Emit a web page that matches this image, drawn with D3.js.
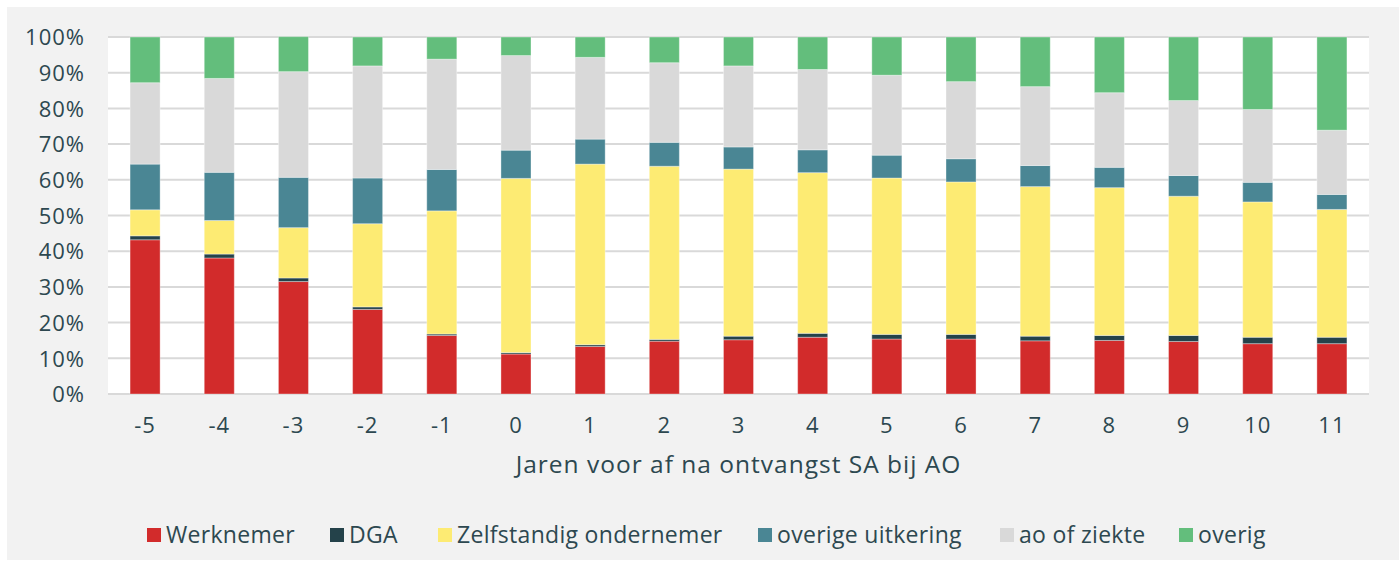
<!DOCTYPE html>
<html>
<head>
<meta charset="utf-8">
<script src="https://cdn.jsdelivr.net/npm/d3@7"></script>
<style>
  body { margin: 0; background: #fff; }
  text { font-family: "Open Sans", Lato, sans-serif; fill: #2d4850; }
</style>
</head>
<body>
<div id="graph"></div>
<script>
// jaren t.o.v. ontvangst SA
var years = ["-5","-4","-3","-2","-1","0","1","2","3","4","5","6","7","8","9","10","11"];
var seriesNames = ["Werknemer","DGA","Zelfstandig ondernemer","overige uitkering","ao of ziekte","overig"];
var seriesColors = ["#d22b2b","#24424a","#fdeb73","#4a8694","#d9d9d9","#63be7c"];

// aandelen in % per jaar
var werknemer   = [43.2,38.1,31.5,23.7,16.4,11.2,13.3,14.8,15.2,15.9,15.4,15.4,14.9,15.0,14.7,14.1,14.1];
var dga         = [ 1.1, 1.1, 1.0, 0.7, 0.4, 0.4, 0.5, 0.5, 1.0, 1.1, 1.3, 1.3, 1.3, 1.4, 1.7, 1.8, 1.8];
var zelfstandig = [ 7.3, 9.4,14.1,23.3,34.5,48.8,50.6,48.5,46.8,45.0,43.8,42.7,41.9,41.4,39.0,37.9,35.8];
var overigeUitk = [12.8,13.5,14.1,12.8,11.6, 7.9, 7.0, 6.7, 6.2, 6.4, 6.4, 6.5, 5.9, 5.7, 5.8, 5.5, 4.2];
var aoZiekte    = [22.8,26.3,29.6,31.4,30.9,26.5,22.9,22.3,22.7,22.5,22.4,21.6,22.1,20.9,21.0,20.4,18.0];
var overig      = [12.8,11.6, 9.8, 8.1, 6.2, 5.2, 5.7, 7.2, 8.1, 9.1,10.7,12.5,13.9,15.6,17.8,20.3,26.1];

var yTicks = [0,10,20,30,40,50,60,70,80,90,100];

var allSeries = [werknemer, dga, zelfstandig, overigeUitk, aoZiekte, overig];
var table = years.map(function(y, i){
    var row = {year: y};
    seriesNames.forEach(function(n, s){ row[n] = allSeries[s][i]; });
    return row;
});

var W = 1400, H = 567;
var margin = {top: 37, right: 31, bottom: 173, left: 108};
var w = W - margin.left - margin.right;
var h = H - margin.top - margin.bottom;

var svg = d3.select('#graph').append('svg')
    .attr('width', W)
    .attr('height', H);

// grijze achtergrond
svg.append('rect')
    .attr('x', 7).attr('y', 7)
    .attr('width', W - 8).attr('height', H - 14)
    .attr('fill', '#f2f2f2');

var g = svg.append('g')
    .attr('transform', 'translate(' + margin.left + ',' + margin.top + ')');

g.append('rect')
    .attr('width', w).attr('height', h)
    .attr('fill', '#fff');

var x = d3.scaleBand().domain(years).range([0, w]).paddingInner(0.595).paddingOuter(0.2975);
var y = d3.scaleLinear().domain([0, 100]).range([h, 0]);

// rasterlijnen
g.append('g')
    .selectAll('line')
    .data(yTicks)
    .enter()
    .append('line')
    .attr('x1', 0).attr('x2', w)
    .attr('y1', function(d){ return y(d); })
    .attr('y2', function(d){ return y(d); })
    .attr('stroke', '#d9d9d9')
    .attr('stroke-width', 2);

var stack = d3.stack().keys(seriesNames);
var layers = stack(table);

g.selectAll('g.layer')
    .data(layers)
    .enter()
    .append('g')
    .attr('class', 'layer')
    .attr('fill', function(d, i){ return seriesColors[i]; })
    .selectAll('rect')
    .data(function(d){ return d; })
    .enter()
    .append('rect')
    .attr('x', function(d){ return x(d.data.year); })
    .attr('width', x.bandwidth())
    .attr('y', function(d){ return y(d[1]); })
    .attr('height', function(d){ return y(d[0]) - y(d[1]); })
    .attr('stroke', '#ffffff')
    .attr('stroke-opacity', 0.35)
    .attr('stroke-width', 1);

// y-as
var yAxis = d3.axisLeft(y).tickValues(yTicks).tickSize(0).tickPadding(23)
    .tickFormat(function(d){ return d + '%'; });
g.append('g')
    .attr('class', 'y axis')
    .call(yAxis)
    .call(function(a){ a.select('.domain').remove(); })
    .selectAll('text')
    .style('font-size', '22px')
    .style('letter-spacing', '1px')
    .attr('dy', '0.35em');

// x-as
var xAxis = d3.axisBottom(x).tickSize(0).tickPadding(23);
g.append('g')
    .attr('class', 'x axis')
    .attr('transform', 'translate(0,' + h + ')')
    .call(xAxis)
    .call(function(a){ a.select('.domain').remove(); })
    .selectAll('text')
    .style('font-size', '22px')
    .style('letter-spacing', '1px');

svg.append('text')
    .attr('x', margin.left + w / 2)
    .attr('y', 473)
    .attr('text-anchor', 'middle')
    .style('font-size', '24.5px')
    .style('letter-spacing', '1px')
    .text('Jaren voor af na ontvangst SA bij AO');

// legenda
var legendX = [147, 330, 438, 758, 1000, 1179];
var legend = svg.append('g').attr('class', 'legend');
var items = legend.selectAll('g')
    .data(seriesNames)
    .enter()
    .append('g')
    .attr('transform', function(d, i){ return 'translate(' + legendX[i] + ',528)'; });
items.append('rect')
    .attr('width', 14).attr('height', 14)
    .attr('fill', function(d, i){ return seriesColors[i]; });
items.append('text')
    .attr('x', 19)
    .attr('y', 14.5)
    .style('font-size', '23px')
    .style('letter-spacing', '0.3px')
    .text(function(d){ return d; });
</script>
</body>
</html>
